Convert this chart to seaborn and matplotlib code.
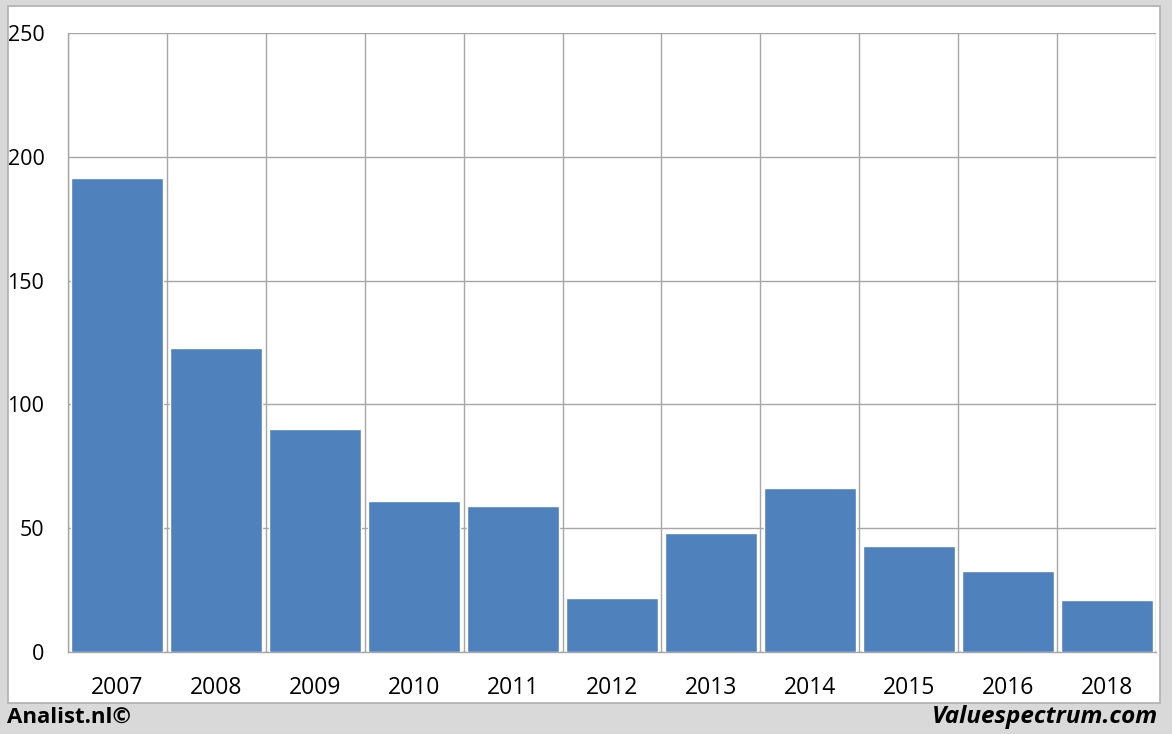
import seaborn as sns
import matplotlib.pyplot as plt
import pandas as pd
import numpy as np
from matplotlib.patches import Rectangle

years = ['2007', '2008', '2009', '2010', '2011', '2012', '2013', '2014', '2015', '2016', '2018']
values = [191.5, 122.8, 90, 61, 59, 21.8, 48, 66.2, 42.8, 32.7, 21]

df = pd.DataFrame({'year': years, 'value': values})

sns.set_style('white')
plt.rcParams['font.family'] = ['Open Sans', 'DejaVu Sans']

fig = plt.figure(figsize=(11.72, 7.34), dpi=100)
fig.patch.set_facecolor('#d9d9d9')

# white chart panel behind the axes
bg = fig.add_axes([0, 0, 1, 1], zorder=0)
bg.set_axis_off()
bg.set_xlim(0, 1172)
bg.set_ylim(734, 0)
bg.add_patch(Rectangle((8, 6), 1152, 697, facecolor='white',
                       edgecolor='#b0b0b0', linewidth=1.2))

ax = fig.add_axes([68 / 1172, 1 - 652 / 734, 1088 / 1172, 619 / 734], zorder=2)
ax.set_facecolor('none')
sns.barplot(data=df, x='year', y='value', color='#4f81bd', saturation=1,
            width=0.93, edgecolor='white', linewidth=1, ax=ax, zorder=3)

ax.set_xlim(-0.5, len(years) - 0.5)
ax.set_ylim(0, 250)
ax.set_yticks(np.arange(0, 251, 50))
ax.set_xticks(np.arange(-0.5, len(years), 1), minor=True)
ax.grid(axis='y', which='major', color='#a6a6a6', linewidth=1, zorder=0)
ax.grid(axis='x', which='minor', color='#a6a6a6', linewidth=1, zorder=0)
ax.grid(axis='x', which='major', visible=False)
ax.set_axisbelow(True)

for s in ['top', 'right']:
    ax.spines[s].set_visible(False)
for s in ['left', 'bottom']:
    ax.spines[s].set_color('#a6a6a6')
    ax.spines[s].set_linewidth(1)

ax.tick_params(axis='x', which='major', length=0, pad=17, labelsize=16.5, labelcolor='black')
ax.tick_params(axis='x', which='minor', length=8, color='#a6a6a6', width=1)
ax.tick_params(axis='y', length=8, color='#a6a6a6', width=1, pad=9, labelsize=15.5,
               labelcolor='black')
ax.set_xlabel('')
ax.set_ylabel('')

fig.text(7 / 1172, 1 - 717 / 734, 'Analist.nl©', fontsize=16, fontweight='bold',
         ha='left', va='center', color='black')
fig.text(1158 / 1172, 1 - 717 / 734, 'Valuespectrum.com', fontsize=17.5, fontweight='bold',
         fontstyle='italic', ha='right', va='center', color='black')

fig.savefig('out.png', dpi=100, facecolor=fig.get_facecolor())
